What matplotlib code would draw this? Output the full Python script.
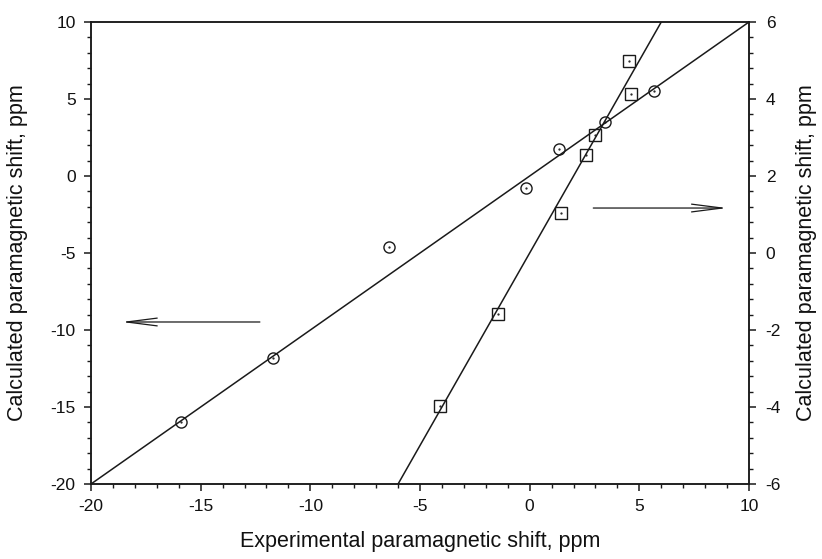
import matplotlib
matplotlib.use("Agg")
import matplotlib.pyplot as plt
from matplotlib.ticker import MultipleLocator

plt.rcParams['font.family'] = ['Liberation Sans', 'DejaVu Sans']
plt.rcParams['axes.unicode_minus'] = False

# Circles (left axis)
circ_x = [-15.9, -11.7, -6.4, -0.17, 1.33, 3.44, 5.67]
circ_y = [-16.0, -11.85, -4.6, -0.75, 1.75, 3.5, 5.5]
# Squares (right axis)
sq_x = [-4.1, -1.45, 1.43, 2.57, 3.0, 4.64, 4.52]
sq_y = [-3.97, -1.58, 1.05, 2.55, 3.07, 4.13, 5.0]
# Regression lines
circ_fit_x = [-20, 10]
circ_fit_y = [-20, 10]
sq_fit_x = [-6.5, 6.5]
sq_fit_y = [-6.5, 6.5]

xlabel = "Experimental paramagnetic shift, ppm"
ylabel = "Calculated paramagnetic shift, ppm"

col = '#1a1a1a'
tcol = '#111111'
fig = plt.figure(figsize=(8.22, 5.59), dpi=100)
ax = fig.add_axes([91/822, 1-484/559, (749-91)/822, (484-22)/559])
ax2 = ax.twinx()

ax.set_xlim(-20, 10)
ax.set_ylim(-20, 10)
ax2.set_ylim(-6, 6)

ax.plot(circ_fit_x, circ_fit_y, color=col, lw=1.1)
ax.plot(circ_x, circ_y, linestyle='none', marker='o', ms=8, mfc='none', mec=col, mew=1.0)
ax.plot(circ_x, circ_y, linestyle='none', marker='.', ms=1.2, color=col)

ax2.plot(sq_fit_x, sq_fit_y, color=col, lw=1.1)
ax2.plot(sq_x, sq_y, linestyle='none', marker='s', ms=8, mfc='none', mec=col, mew=1.0)
ax2.plot(sq_x, sq_y, linestyle='none', marker='.', ms=1.2, color=col)

arrow_style = '->,head_length=2.2,head_width=0.28'
ax.annotate('', xy=(-18.6, -9.48), xytext=(-12.3, -9.48),
            arrowprops=dict(arrowstyle=arrow_style, color=col, lw=0.9, shrinkA=0, shrinkB=0))
ax.annotate('', xy=(9.0, -2.08), xytext=(2.9, -2.08),
            arrowprops=dict(arrowstyle=arrow_style, color=col, lw=0.9, shrinkA=0, shrinkB=0))

ax.xaxis.set_major_locator(MultipleLocator(5))
ax.xaxis.set_minor_locator(MultipleLocator(1))
ax.yaxis.set_major_locator(MultipleLocator(5))
ax.yaxis.set_minor_locator(MultipleLocator(1))
ax2.yaxis.set_major_locator(MultipleLocator(2))
ax2.yaxis.set_minor_locator(MultipleLocator(0.4))

for a in (ax, ax2):
    for s in a.spines.values():
        s.set_color(col)
        s.set_linewidth(1.1)
ax.tick_params(which='major', direction='out', length=5, width=1.1, color=col, labelsize=12.5, labelcolor=tcol, pad=6)
ax.tick_params(which='minor', direction='out', length=3, width=1.0, color=col)
ax.tick_params(top=False, right=False, which='both')
ax2.tick_params(which='major', direction='out', length=5, width=1.1, color=col, labelsize=12.5, labelcolor=tcol, pad=7)
ax2.tick_params(which='minor', direction='out', length=3, width=1.0, color=col)

ax.set_xlabel(xlabel, fontsize=15.5, color=tcol, va='center', ha='center')
ax.xaxis.set_label_coords(0.5, (484-541)/462)
ax.set_ylabel(ylabel, fontsize=15.5, color=tcol, va='center', ha='center')
ax.yaxis.set_label_coords((18-91)/658, 0.5)
ax2.set_ylabel(ylabel, fontsize=15.5, color=tcol, rotation=90, va='center', ha='center')
ax2.yaxis.set_label_coords((806-91)/658, 0.5)

fig.savefig('out.png', dpi=100)
